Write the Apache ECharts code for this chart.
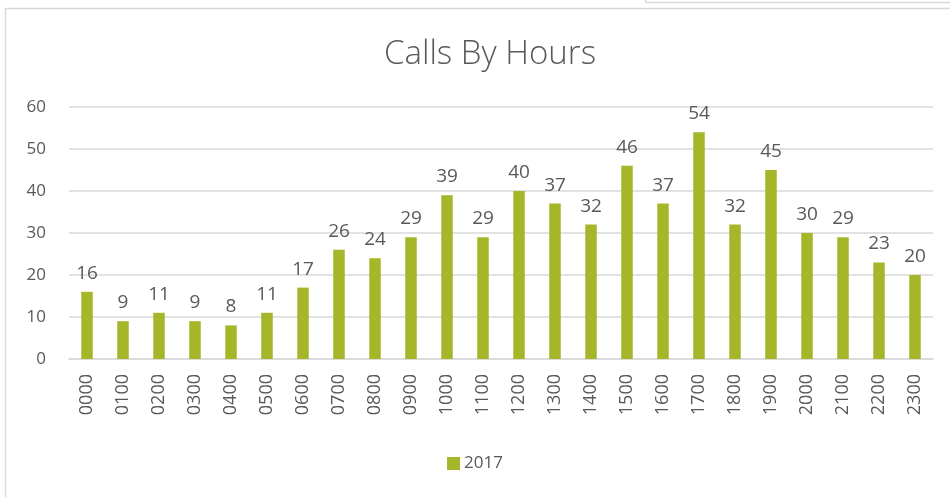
<!DOCTYPE html>
<html><head><meta charset="utf-8">
<script src="https://cdn.jsdelivr.net/npm/echarts@6/dist/echarts.min.js"></script>
<style>html,body{margin:0;padding:0;background:#fff}#c{width:950px;height:497px}</style>
</head><body><div id="c"></div>
<script>
const categories = ['0000','0100','0200','0300','0400','0500','0600','0700','0800','0900','1000','1100','1200','1300','1400','1500','1600','1700','1800','1900','2000','2100','2200','2300'];
const calls2017 = [16,9,11,9,8,11,17,26,24,29,39,29,40,37,32,46,37,54,32,45,30,29,23,20];
const yTicks = {min:0, max:60, interval:10};
const seriesName = '2017';
const titleText = 'Calls By Hours';

const chart = echarts.init(document.getElementById('c'), null, {renderer:'canvas'});
const txt = '#595959';
const font = 'Open Sans';
chart.setOption({
  animation:false,
  graphic:[
    {type:'rect', shape:{x:5.5, y:8.5, width:960, height:500}, style:{fill:'none', stroke:'#d9d9d9', lineWidth:1.5}, silent:true},
    {type:'rect', shape:{x:645.5, y:-10, width:320, height:12.5}, style:{fill:'none', stroke:'#d9d9d9', lineWidth:1.5}, silent:true}
  ],
  title:{text:titleText, left:485, top:33, textAlign:'center',
    textStyle:{color:txt, fontFamily:font, fontWeight:300, fontSize:33}},
  legend:{bottom:20, left:'center', itemWidth:13, itemHeight:13, itemGap:6,
    icon:'rect', textStyle:{color:txt, fontFamily:font, fontSize:17, padding:[0,0,0,-1]}, data:[seriesName]},
  grid:{left:69, right:17, top:107, bottom:138, containLabel:false},
  xAxis:{type:'category', data:categories,
    axisLine:{lineStyle:{color:'#d9d9d9', width:1.5}}, axisTick:{show:false},
    axisLabel:{rotate:90, color:txt, fontFamily:font, fontSize:18, margin:15, interval:0}},
  yAxis:{type:'value', min:yTicks.min, max:yTicks.max, interval:yTicks.interval,
    axisLine:{show:false}, axisTick:{show:false},
    splitLine:{lineStyle:{color:'#d9d9d9', width:1.5}},
    axisLabel:{color:txt, fontFamily:font, fontSize:17, margin:23}},
  series:[{name:seriesName, type:'bar', data:calls2017, barWidth:'32%',
    itemStyle:{color:'#a5b62a'},
    label:{show:true, position:'top', distance:9, color:txt, fontFamily:font, fontSize:19}}]
});
</script></body></html>
